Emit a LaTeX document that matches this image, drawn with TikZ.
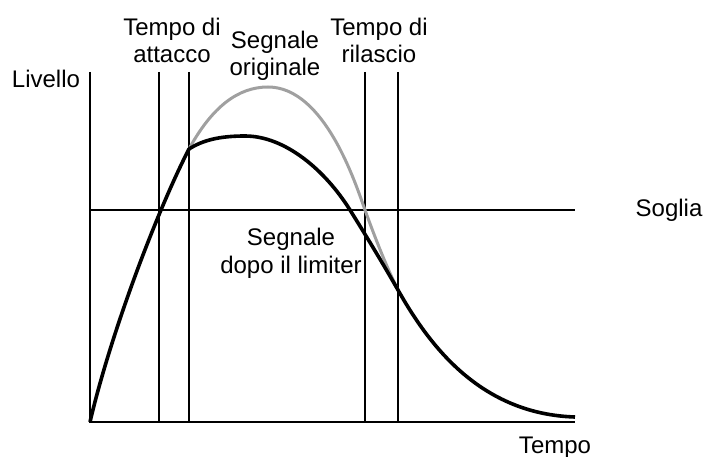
\documentclass[tikz,border=0pt]{standalone}
\usepackage{fontspec}
\setmainfont{Liberation Sans}
\definecolor{lvOrig}{HTML}{A0A0A0}
\definecolor{lvLine}{HTML}{000000}
\tikzset{
  axisline/.style={line width=1.6pt, lvLine},
  guide/.style={line width=1.4pt, lvLine},
  origsig/.style={line width=3pt, lvOrig},
  limsig/.style={line width=3.6pt, lvLine, line join=round},
  tag/.style={font=\fontsize{24}{27.5}\selectfont, align=center, inner sep=0pt, anchor=base}
}
\begin{document}
\begin{tikzpicture}[x=1pt, y=-1pt]
  \useasboundingbox (0,0) rectangle (704,457);
  % axes
  \coordinate (o) at (90,422);
  \coordinate (ytop) at (90,72);
  \coordinate (xend) at (575,422);
  \coordinate (thl) at (90,210);
  \coordinate (thr) at (575,210);
  \draw[axisline] (ytop) -- (o) -- (xend);
  \draw[guide] (thl) -- (thr);
  % attack / release markers
  \foreach \name/\xx in {a1/159, a2/189, r1/365, r2/398} {
    \coordinate (\name top) at (\xx,72);
    \coordinate (\name bot) at (\xx,422);
    \draw[guide] (\name top) -- (\name bot);
  }
  % original signal
  \draw[origsig] (189,149) .. controls (212,107) and (238,87) .. (268,87)
    .. controls (325,87) and (356,185) .. (365,210)
    .. controls (373,232) and (385,264) .. (398,290);
  % limited signal
  \draw[limsig] (o) .. controls (111,332) and (158,209) .. (189,149)
    .. controls (203,140) and (220,136) .. (245,136)
    .. controls (285,136) and (325,170) .. (350,210)
    .. controls (365,234) and (382,262) .. (398,290)
    .. controls (429,345) and (480,414) .. (575,417);
  % labels (base = last line)
  \node[tag] (livello) at (46,88) {Livello};
  \node[tag] (attacco) at (172,63) {Tempo di\\attacco};
  \node[tag] (originale) at (275,76) {Segnale\\originale};
  \node[tag] (rilascio) at (379,63) {Tempo di\\rilascio};
  \node[tag] (limiter) at (291,273) {Segnale\\dopo il limiter};
  \node[tag] (soglia) at (669,217) {Soglia};
  \node[tag] (tempo) at (555,453) {Tempo};
\end{tikzpicture}
\end{document}
